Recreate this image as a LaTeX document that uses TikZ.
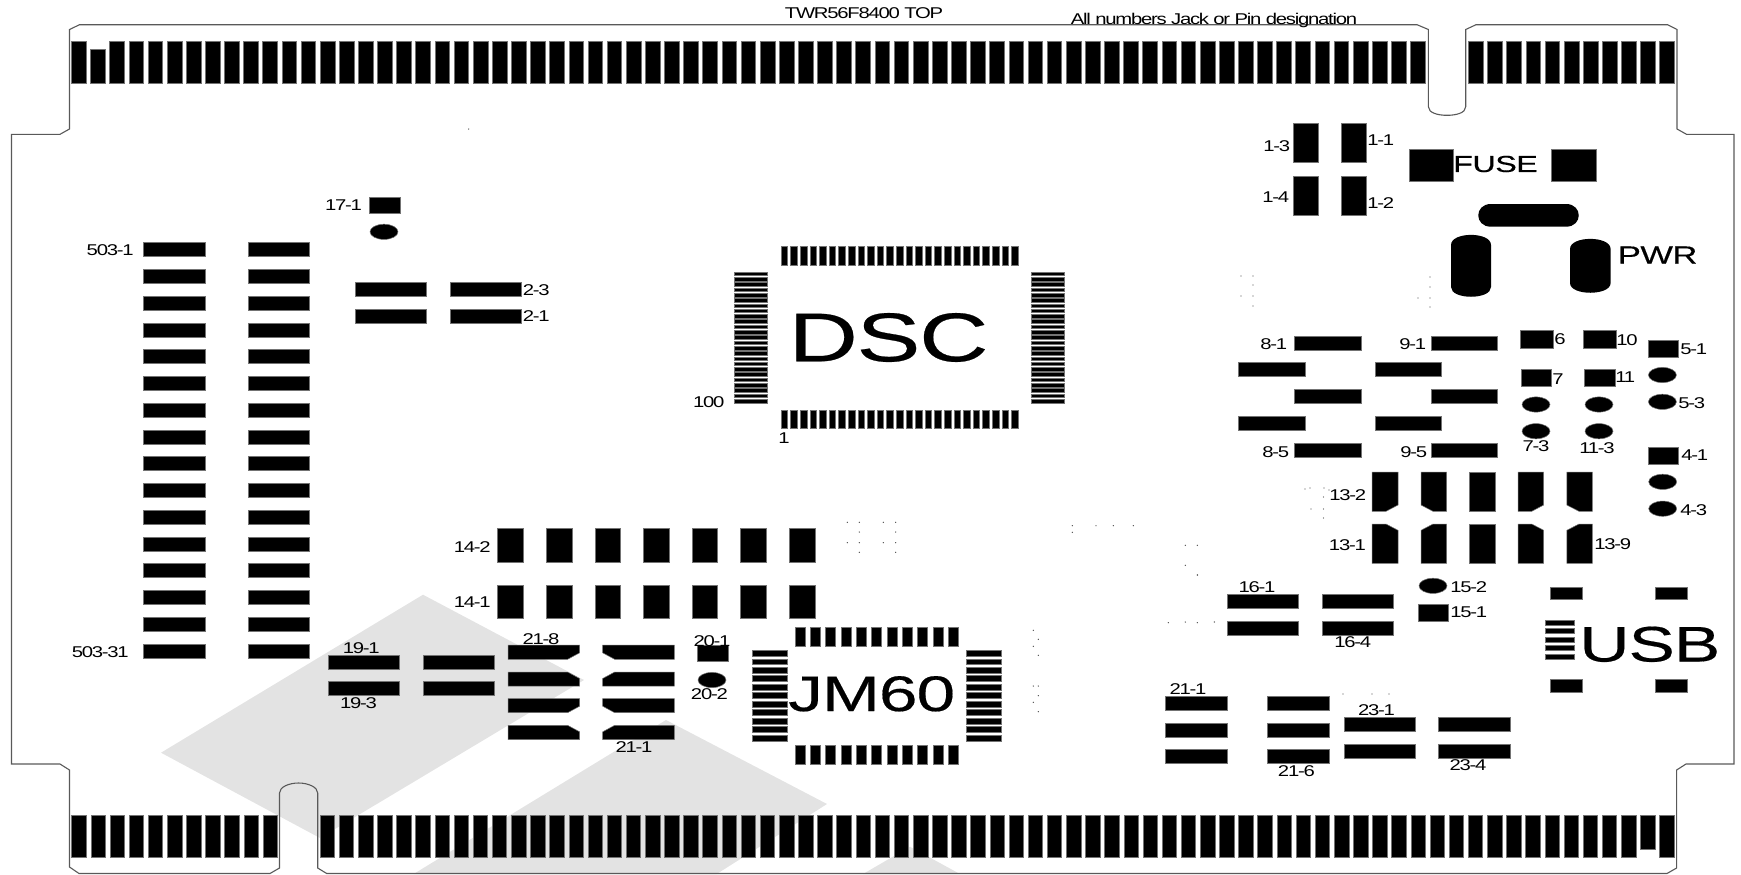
\documentclass[tikz,border=0pt]{standalone}
\usepackage{fontspec}
\setmainfont[FakeStretch=1.3,LetterSpace=-8]{Liberation Sans}
\newfontfamily\widefont[FakeStretch=1.39,FakeBold=0.35,LetterSpace=-2]{Liberation Sans}
\definecolor{logogray}{HTML}{E3E3E3}
\tikzset{padbox/.style={fill=black, draw=black!55, line width=0.25pt}}
\tikzset{boardline/.style={draw=black!65, line width=0.55pt, line join=miter}}
\tikzset{lbl/.style={inner sep=0, font=\fontsize{7.8}{9}\selectfont}}
\tikzset{lble/.style={lbl, anchor=east, xshift=0.8pt}}
\tikzset{lblw/.style={lbl, anchor=west}}
\tikzset{bigtxt/.style={inner sep=0, font=\widefont\fontsize{#1}{#1}\selectfont}}
\newcommand{\pad}[4]{\path[padbox] (#1,#2) rectangle (#3,#4);}
\newcommand{\via}[2]{\path[padbox] (#1,#2) ellipse [x radius=14, y radius=7.6];}

\begin{document}
\begin{tikzpicture}[x=0.5pt, y=-0.5pt]
	\useasboundingbox (0,0) rectangle (1741,874);

	% logo behind the board
	\fill[logogray] (161,752.7) -- (423,594.7) -- (584,680) -- (320,838) -- cycle;
	\fill[logogray] (666,720) -- (827,804) -- (716.7,874) -- (413.6,874) -- cycle;
	\fill[logogray] (910,846.7) -- (960,874) -- (863,874) -- cycle;

	% board
	\draw[boardline] (79.5,24.7) -- (1417,24.7) -- (1428.4,29.5) -- (1428.4,106.7)
		.. controls (1428.4,113) and (1438,115.3) .. (1447,115.3)
		.. controls (1456,115.3) and (1465.7,113) .. (1465.7,106.7)
		-- (1465.7,29.5) -- (1476,24.7) -- (1667.6,24.7) -- (1677,29.5) -- (1677,129)
		-- (1686.5,134.3) -- (1734,134.3) -- (1734,764) -- (1686,764) -- (1676.6,770)
		-- (1676.6,868) -- (1667,873.5) -- (326.7,873.5) -- (317.7,868) -- (317.7,793)
		.. controls (317.7,787) and (308,783) .. (298.5,783)
		.. controls (289,783) and (279.5,787) .. (279.5,793)
		-- (279.5,868) -- (270,873.5) -- (79,873.5) -- (69.5,867) -- (69.5,770)
		-- (60,764) -- (11.5,764) -- (11.5,134.3) -- (60,134.3) -- (69.5,129)
		-- (69.5,29.5) -- cycle;

	% edge fingers
	\foreach \i in {0,...,70}{
		\pgfmathsetmacro{\xa}{71.4+19.13*\i}
		\pgfmathsetmacro{\xb}{\xa+14.7}
		\ifnum\i=1
			\pad{\xa}{49.3}{\xb}{83.7}
		\else
			\pad{\xa}{41.3}{\xb}{83.7}
		\fi
	}
	\foreach \i in {0,...,10}{
		\pgfmathsetmacro{\xa}{1468.5+19.11*\i}
		\pgfmathsetmacro{\xb}{\xa+14.7}
		\pad{\xa}{41.3}{\xb}{83.7}
		\pgfmathsetmacro{\xc}{71.7+19.13*\i}
		\pgfmathsetmacro{\xd}{\xc+14.5}
		\pad{\xc}{815}{\xd}{857.3}
	}
	\foreach \i in {0,...,70}{
		\pgfmathsetmacro{\xa}{320+19.137*\i}
		\pgfmathsetmacro{\xb}{\xa+14.5}
		\ifnum\i=69
			\pad{\xa}{815}{\xb}{849.3}
		\else
			\pad{\xa}{815}{\xb}{857.3}
		\fi
	}

	% header 503
	\foreach \i in {0,...,15}{
		\pgfmathsetmacro{\ya}{242.7+26.75*\i}
		\pgfmathsetmacro{\yb}{\ya+14}
		\pad{143.5}{\ya}{205.3}{\yb}
		\pad{247.9}{\ya}{309.7}{\yb}
	}
	\node[lble] (J503a) at (132.4,250) {503-1};
	\node[lble] (J503b) at (127.5,652) {503-31};

	% 17
	\pad{369.6}{197}{400}{213.7}
	\via{384}{231.8}
	\node[lble] (J17) at (360.7,205) {17-1};

	% 2
	\foreach \ya/\yb in {282.3/296.7, 309/323.4}{
		\pad{355}{\ya}{426}{\yb}
		\pad{450}{\ya}{521}{\yb}
	}
	\node[lblw] (J2a) at (522.4,290) {2-3};
	\node[lblw] (J2b) at (522.4,316.5) {2-1};

	% 1 and fuse
	\foreach \ya/\yb in {123.3/162.7, 176/215}{
		\pad{1293}{\ya}{1318}{\yb}
		\pad{1341.5}{\ya}{1366.7}{\yb}
	}
	\node[lble] (J1c) at (1289,146) {1-3};
	\node[lble] (J1d) at (1288,196.7) {1-4};
	\node[lblw] (J1a) at (1367,140) {1-1};
	\node[lblw] (J1b) at (1367,203) {1-2};
	\pad{1409}{149}{1453.6}{181.7}
	\pad{1551}{149}{1595.8}{181.7}
	\node[bigtxt=11.6] (FUSE) at (1495.5,164) {FUSE};

	% pwr
	\fill (1491,204) -- (1566,204) .. controls (1583,204) and (1583,226.7) .. (1566,226.7)
		-- (1491,226.7) .. controls (1474,226.7) and (1474,204) .. (1491,204) -- cycle;
	\fill (1451,245) .. controls (1451,231.5) and (1491,231.5) .. (1491,245) -- (1491,287)
		.. controls (1491,300) and (1451,300) .. (1451,287) -- cycle;
	\fill (1570,249) .. controls (1570,235.5) and (1610.6,235.5) .. (1610.6,249) -- (1610.6,283)
		.. controls (1610.6,296) and (1570,296) .. (1570,283) -- cycle;
	\node[bigtxt=12.4] (PWR) at (1657.6,255) {PWR};

	% dsc
	\foreach \i in {0,...,24}{
		\pgfmathsetmacro{\xa}{781+9.6*\i}
		\pgfmathsetmacro{\xb}{\xa+6.7}
		\pad{\xa}{246.7}{\xb}{265}
		\pad{\xa}{410.3}{\xb}{428.7}
		\pgfmathsetmacro{\ya}{272+5.3*\i}
		\pgfmathsetmacro{\yb}{\ya+3.6}
		\pad{734.7}{\ya}{767.7}{\yb}
		\pad{1031.3}{\ya}{1064}{\yb}
	}
	\node[bigtxt=34.5] (DSC) at (888.5,337.5) {DSC};
	\node[lble] (P100) at (723.3,402.3) {100};
	\node[lbl] (P1) at (784,438.3) {1};

	% 8 and 9
	\foreach \ya/\yb in {336/350, 389.3/403.7, 443/457}{
		\pad{1294.5}{\ya}{1361}{\yb}
		\pad{1430.9}{\ya}{1497.4}{\yb}
	}
	\foreach \ya/\yb in {362.7/376.7, 416.3/430.3}{
		\pad{1238.3}{\ya}{1305}{\yb}
		\pad{1375}{\ya}{1441.5}{\yb}
	}
	\node[lble] (J8a) at (1286,344) {8-1};
	\node[lble] (J8b) at (1288,451.7) {8-5};
	\node[lble] (J9a) at (1425,344) {9-1};
	\node[lble] (J9b) at (1426,451.7) {9-5};

	% 6 7 10 11
	\pad{1520}{330}{1553}{348.7}
	\pad{1583}{330}{1616}{348.7}
	\pad{1521}{369.7}{1551.6}{386.7}
	\pad{1584.4}{369.7}{1615}{386.7}
	\via{1536}{404.5}
	\via{1536}{431.2}
	\via{1599}{404.5}
	\via{1599}{431.2}
	\node[lblw] (J6) at (1554,339) {6};
	\node[lblw] (J10) at (1616,340) {10};
	\node[lblw] (J7) at (1552,379) {7};
	\node[lblw] (J11) at (1615,377) {11};
	\node[lbl] (J7c) at (1536,446) {7-3};
	\node[lbl] (J11c) at (1597,448.3) {11-3};

	% 5 and 4
	\pad{1648}{340}{1678}{357}
	\via{1662.4}{375}
	\via{1662.4}{401.8}
	\pad{1648.5}{447}{1678.5}{464}
	\via{1662.7}{481.8}
	\via{1662.7}{508.7}
	\node[lblw] (J5a) at (1680,349) {5-1};
	\node[lblw] (J5c) at (1678,403) {5-3};
	\node[lblw] (J4a) at (1681,455) {4-1};
	\node[lblw] (J4c) at (1680,510) {4-3};

	% 13
	\path[padbox] (1372,472) -- (1398,472) -- (1398,505) -- (1386,511.3) -- (1372,511.3) -- cycle;
	\path[padbox] (1421,472) -- (1446.7,472) -- (1446.7,511.3) -- (1433,511.3) -- (1421,505) -- cycle;
	\pad{1469.5}{472}{1495}{511.3}
	\path[padbox] (1518,472) -- (1543.7,472) -- (1543.7,505) -- (1531.7,511.3) -- (1518,511.3) -- cycle;
	\path[padbox] (1566.8,472) -- (1592.3,472) -- (1592.3,511.3) -- (1579,511.3) -- (1566.8,505) -- cycle;
	\path[padbox] (1372,524) -- (1386,524) -- (1398,530.3) -- (1398,563.3) -- (1372,563.3) -- cycle;
	\path[padbox] (1433,524) -- (1446.7,524) -- (1446.7,563.3) -- (1421,563.3) -- (1421,530.3) -- cycle;
	\pad{1469.5}{524}{1495}{563.3}
	\path[padbox] (1518,524) -- (1531.7,524) -- (1543.7,530.3) -- (1543.7,563.3) -- (1518,563.3) -- cycle;
	\path[padbox] (1579,524) -- (1592.3,524) -- (1592.3,563.3) -- (1566.8,563.3) -- (1566.8,530.3) -- cycle;
	\node[lble] (J13b) at (1365,495) {13-2};
	\node[lble] (J13a) at (1364.6,545) {13-1};
	\node[lblw] (J13c) at (1594,544) {13-9};

	% 15 and 16
	\via{1433}{585.8}
	\pad{1418}{604}{1448.5}{621}
	\node[lblw] (J15b) at (1450,587) {15-2};
	\node[lblw] (J15a) at (1450,612.3) {15-1};
	\foreach \ya/\yb in {594.3/608.7, 621/635.3}{
		\pad{1227.4}{\ya}{1298.7}{\yb}
		\pad{1322}{\ya}{1393.4}{\yb}
	}
	\node[lbl] (J16a) at (1257,587.3) {16-1};
	\node[lbl] (J16b) at (1352.7,642.3) {16-4};

	% usb
	\pad{1550}{587}{1582}{599.3}
	\pad{1655.5}{587}{1687.3}{599.3}
	\pad{1550}{679.7}{1582}{692}
	\pad{1655.5}{679.7}{1687.3}{692}
	\foreach \i in {0,...,4}{
		\pgfmathsetmacro{\ya}{620+8.5*\i}
		\pgfmathsetmacro{\yb}{\ya+4.8}
		\pad{1545.5}{\ya}{1574}{\yb}
	}
	\node[bigtxt=25] (USB) at (1649.8,644.3) {USB};

	% 21 and 23 right
	\foreach \ya/\yb in {696/710.3, 723/737, 749.7/763.7}{
		\pad{1165.3}{\ya}{1227}{\yb}
		\pad{1267.3}{\ya}{1329.3}{\yb}
	}
	\node[lbl] (J21r) at (1188,689.3) {21-1};
	\node[lbl] (J21s) at (1296.4,771.3) {21-6};
	\foreach \ya/\yb in {717.3/731.7, 744/758.7}{
		\pad{1344}{\ya}{1415}{\yb}
		\pad{1438.6}{\ya}{1510}{\yb}
	}
	\node[lbl] (J23a) at (1376.5,710.3) {23-1};
	\node[lbl] (J23b) at (1468,765.3) {23-4};

	% 14
	\foreach \i in {0,...,6}{
		\pgfmathsetmacro{\xa}{497.7+48.6*\i}
		\pgfmathsetmacro{\xb}{\xa+25.5}
		\pad{\xa}{528.7}{\xb}{562.7}
		\pad{\xa}{585}{\xb}{618.7}
	}
	\node[lble] (J14b) at (489.4,547) {14-2};
	\node[lble] (J14a) at (489.4,601.7) {14-1};

	% 19
	\foreach \ya/\yb in {655/669, 681.7/695.7}{
		\pad{327.9}{\ya}{399.5}{\yb}
		\pad{423}{\ya}{494.6}{\yb}
	}
	\node[lbl] (J19a) at (361.3,648.3) {19-1};
	\node[lbl] (J19c) at (358.5,703.3) {19-3};

	% 21 left
	\path[padbox] (508,645) -- (579.6,645) -- (579.6,652.8) -- (567.6,659.3) -- (508,659.3) -- cycle;
	\path[padbox] (508,672) -- (567.6,672) -- (579.6,678.5) -- (579.6,686) -- (508,686) -- cycle;
	\path[padbox] (508,698.7) -- (579.6,698.7) -- (579.6,706.2) -- (567.6,712.7) -- (508,712.7) -- cycle;
	\path[padbox] (508,725.3) -- (567.6,725.3) -- (579.6,731.8) -- (579.6,739.7) -- (508,739.7) -- cycle;
	\path[padbox] (602.7,645) -- (674.3,645) -- (674.3,659.3) -- (614.7,659.3) -- (602.7,652.8) -- cycle;
	\path[padbox] (614.7,672) -- (674.3,672) -- (674.3,686) -- (602.7,686) -- (602.7,678.5) -- cycle;
	\path[padbox] (602.7,698.7) -- (674.3,698.7) -- (674.3,712.7) -- (614.7,712.7) -- (602.7,706.2) -- cycle;
	\path[padbox] (614.7,725.3) -- (674.3,725.3) -- (674.3,739.7) -- (602.7,739.7) -- (602.7,731.8) -- cycle;
	\node[lbl] (J21h) at (541,639.3) {21-8};
	\node[lbl] (J21a) at (634,747.3) {21-1};

	% 20
	\pad{697.7}{645.7}{728}{661.7}
	\via{712}{680}
	\node[lbl] (J20a) at (712,640.7) {20-1};
	\node[lbl] (J20b) at (709.4,694.3) {20-2};

	% jm60
	\foreach \i in {0,...,10}{
		\pgfmathsetmacro{\xa}{795+15.33*\i}
		\pgfmathsetmacro{\xb}{\xa+10}
		\pad{\xa}{627.3}{\xb}{646.7}
		\pad{\xa}{745}{\xb}{764.3}
		\pgfmathsetmacro{\ya}{650.3+8.47*\i}
		\pgfmathsetmacro{\yb}{\ya+5.8}
		\pad{752.7}{\ya}{787.7}{\yb}
		\pad{966.7}{\ya}{1001.7}{\yb}
	}
	\node[bigtxt=25] (JM60) at (871.7,693.8) {JM60};

	% top texts
	\node[lbl] (TOPTXT) at (864,13.5) {TWR56F8400 TOP};
	\node[lbl] (NOTE) at (1214,20) {All numbers Jack or Pin designation};

	% stray marks
	\foreach \x/\y in {468.7/129, 1241/276, 1253/276, 1253/285, 1241/296, 1253/296, 1418/298, 1430/298, 1430/277, 1430/287, 1253/306, 1430/307,
		1305/489, 1310/488, 1324/488, 1329/490, 1323.5/497, 1311/509, 1323.5/509, 1323.5/518, 1197.5/575,
		847.3/522.3, 859.3/522.3, 883.3/522.3, 895.7/522.3, 859.3/532, 895.7/532, 847.3/542.7, 859.3/542.7, 883.3/542.7, 895.7/542.7, 859.3/552.3, 895.7/552.3,
		1072.3/525.7, 1072.3/532.3, 1096/525.7, 1113.3/525.7, 1133.3/525.7, 1185.3/545.3, 1197.3/545.3, 1185.3/565.3, 1197.3/575,
		1168.3/622.7, 1185.3/622, 1197.3/622.7, 1214.3/622, 1033.3/630.3, 1038.3/639.3, 1033.3/646.3, 1038.3/655.3,
		1033.3/686, 1038.3/686, 1038.3/695.7, 1033.3/702.3, 1038.3/711.7, 1343/694, 1372/694, 1389/694}{
		\fill[black!70] (\x,\y) circle [radius=0.7];
	}
\end{tikzpicture}
\end{document}
